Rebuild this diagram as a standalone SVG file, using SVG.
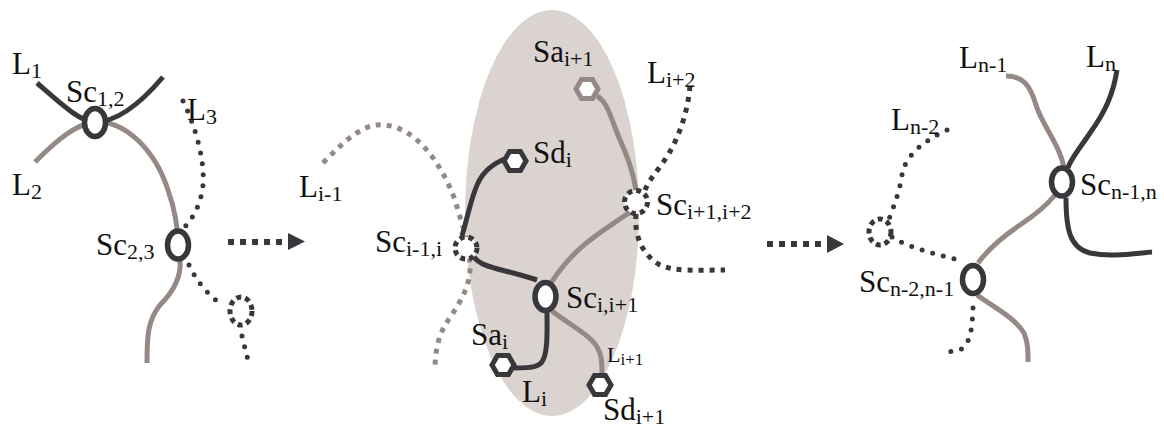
<svg xmlns="http://www.w3.org/2000/svg" width="1164" height="427" viewBox="0 0 1164 427">
<style>
text{font-family:"Liberation Serif","Times New Roman",serif;font-size:31px;fill:#111}
.sub{font-size:22px}
.solid{fill:none;stroke-width:5;stroke-linecap:butt}
.dk{stroke:#38383c}
.gr{stroke:#958985}
.dots{fill:none;stroke:#38383c;stroke-width:5;stroke-dasharray:0 11;stroke-linecap:round}
.sq{fill:none;stroke-width:5;stroke-dasharray:5 6}
.node{fill:#fff;stroke:#38383c;stroke-width:5.5}
.dnode{fill:#fff;stroke:#38383c;stroke-width:5;stroke-dasharray:5 4}
.hex{fill:#fff;stroke-width:5}
.arr{fill:none;stroke:#38383c;stroke-width:6;stroke-dasharray:6 6}
</style>
<defs>
<polygon id="hx" points="-11,0 -5.5,-9.5 5.5,-9.5 11,0 5.5,9.5 -5.5,9.5"/>
</defs>
<rect width="1164" height="427" fill="#fff"/>
<ellipse cx="552" cy="213" rx="87" ry="203" fill="#dad3cf"/>
<g id="connectors">
<path class="solid gr" d="M35,162 C55,142 75,124 95,122 C125,120 155,150 168,190 C175,210 178,230 178,245"/>
<path class="solid gr" d="M180,260 C182,280 170,295 160,305 C148,320 147,335 147,363"/>
<path class="solid dk" d="M37,83 C60,103 80,122 95,122 C112,122 135,110 163,77"/>
<path class="dots" d="M183,101 C195,125 205,160 203,185 C201,205 192,220 182,230"/>
<path class="dots" d="M189,265 C196,280 208,296 224,306"/>
<ellipse cx="241" cy="311" rx="11" ry="14" fill="none" stroke="#38383c" stroke-width="5" stroke-dasharray="5 4"/>
<path class="dots" d="M242,336 C244,345 246,352 248,360"/>
<path class="arr" d="M228,242 L284,242"/>
<polygon points="288,233 305,241.5 288,250" fill="#38383c"/>
<path class="sq gr" d="M323,163 C345,140 365,122 385,125 C415,128 440,160 455,200 C462,225 470,245 470,268 C470,290 455,310 445,325 C437,340 435,355 435,370"/>
<path class="solid gr" d="M597,96 C607,102 610,115 616,130 C624,150 632,165 636,190"/>
<path class="solid gr" d="M630,212 C605,230 575,245 551,283"/>
<path class="solid gr" d="M552,311 C570,325 590,335 597,347 C602,355 602,362 602,376"/>
<path class="solid dk" d="M462,236 C468,215 472,195 478,183 C484,170 494,163 507,158"/>
<path class="solid dk" d="M474,257 C482,268 500,268 537,280"/>
<path class="solid dk" d="M547,312 C547,330 548,350 543,360 C540,367 532,368 514,368"/>
<path class="sq dk" d="M690,86 C688,110 680,135 668,155 C660,168 650,178 645,190"/>
<path class="sq dk" d="M636,214 C634,235 642,255 660,265 C675,272 700,270 725,270"/>
<path class="arr" d="M767,244 L823,244"/>
<polygon points="827,235 844,244 827,253" fill="#38383c"/>
<path class="dots" d="M947,130 C925,140 905,155 902,175 C899,195 892,210 888,222"/>
<path class="dots" d="M892,237 C905,246 930,253 963,261"/>
<ellipse cx="880" cy="232" rx="11" ry="13" fill="none" stroke="#38383c" stroke-width="5" stroke-dasharray="5 4"/>
<path class="dots" d="M973,308 C972,325 972,345 958,351 C952,352 948,351 944,351"/>
<path class="solid gr" d="M977,295 C995,308 1015,318 1024,333 C1028,343 1028,350 1028,362"/>
<path class="solid gr" d="M978,263 C990,247 1005,235 1020,225 C1035,215 1047,205 1055,195"/>
<path class="solid gr" d="M1006,76 C1023,76 1030,85 1036,105 C1042,125 1060,145 1064,168"/>
<path class="solid dk" d="M1117,70 C1113,95 1105,112 1090,133 C1080,148 1070,160 1068,168"/>
<path class="solid dk" d="M1066,198 C1066,230 1070,248 1090,253 C1110,257 1130,254 1152,252"/>
</g>
<g id="n-sc12"><ellipse class="node" cx="95" cy="122.5" rx="10.5" ry="14"/><text x="66" y="102">Sc<tspan class="sub" dy="4">1,2</tspan></text></g>
<g id="n-l1"><text x="12" y="74">L<tspan class="sub" dy="4">1</tspan></text></g>
<g id="n-l2"><text x="12" y="195">L<tspan class="sub" dy="4">2</tspan></text></g>
<g id="n-l3"><text x="187" y="120">L<tspan class="sub" dy="4">3</tspan></text></g>
<g id="n-sc23"><ellipse class="node" cx="178" cy="245" rx="10.5" ry="14"/><text x="96" y="255">Sc<tspan class="sub" dy="4">2,3</tspan></text></g>
<g id="n-li-1"><text x="299" y="197">L<tspan class="sub" dy="4">i-1</tspan></text></g>
<g id="n-sci-1i"><circle class="dnode" cx="466" cy="248" r="11"/><text x="375" y="252">Sc<tspan class="sub" dy="4">i-1,i</tspan></text></g>
<g id="n-sdi"><use href="#hx" class="hex dk" x="515" y="161"/><text x="533" y="163">Sd<tspan class="sub" dy="4">i</tspan></text></g>
<g id="n-sai1"><use href="#hx" class="hex gr" x="587" y="89"/><text x="533" y="62">Sa<tspan class="sub" dy="4">i+1</tspan></text></g>
<g id="n-li2"><text x="647" y="83">L<tspan class="sub" dy="4">i+2</tspan></text></g>
<g id="n-sci1i2"><circle class="dnode" cx="636" cy="202" r="11.5"/><text x="656" y="215">Sc<tspan class="sub" dy="4">i+1,i+2</tspan></text></g>
<g id="n-scii1"><ellipse class="node" cx="545.5" cy="296.5" rx="10.5" ry="14"/><text x="566" y="308">Sc<tspan class="sub" dy="4">i,i+1</tspan></text></g>
<g id="n-sai"><use href="#hx" class="hex dk" x="503" y="365"/><text x="471" y="345">Sa<tspan class="sub" dy="4">i</tspan></text></g>
<g id="n-li"><text x="522" y="402">L<tspan class="sub" dy="4">i</tspan></text></g>
<g id="n-li1"><text x="607" y="362" style="font-size:22px">L<tspan dy="3" style="font-size:17px">i+1</tspan></text></g>
<g id="n-sdi1"><use href="#hx" class="hex dk" x="600" y="385"/><text x="603" y="420">Sd<tspan class="sub" dy="4">i+1</tspan></text></g>
<g id="n-ln-2"><text x="891" y="130">L<tspan class="sub" dy="4">n-2</tspan></text></g>
<g id="n-ln-1"><text x="959" y="68">L<tspan class="sub" dy="4">n-1</tspan></text></g>
<g id="n-ln"><text x="1086" y="67">L<tspan class="sub" dy="4">n</tspan></text></g>
<g id="n-scn-1n"><ellipse class="node" cx="1062" cy="182" rx="10.5" ry="14"/><text x="1080" y="195">Sc<tspan class="sub" dy="4">n-1,n</tspan></text></g>
<g id="n-scn-2n-1"><ellipse class="node" cx="973" cy="279.5" rx="10.5" ry="14"/><text x="859" y="292">Sc<tspan class="sub" dy="4">n-2,n-1</tspan></text></g>
</svg>
